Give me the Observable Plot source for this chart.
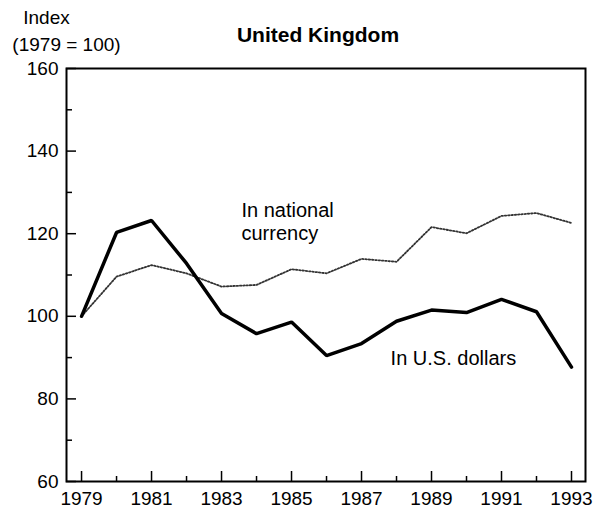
<!DOCTYPE html>
<html>
<head>
<meta charset="utf-8">
<script src="https://cdn.jsdelivr.net/npm/d3@7"></script>
<script src="https://cdn.jsdelivr.net/npm/@observablehq/plot@0.6"></script>
<style>
  html, body { margin: 0; padding: 0; background: #fff; }
  svg { font-family: "Liberation Sans", Arial, Helvetica, sans-serif; }
</style>
</head>
<body>
<div id="chart"></div>
<script>
const years = [1979,1980,1981,1982,1983,1984,1985,1986,1987,1988,1989,1990,1991,1992,1993];
const usDollars = [100,120.3,123.2,112.8,100.7,95.8,98.6,90.5,93.4,98.8,101.5,100.9,104.1,101.1,87.7];
const nationalCurrency = [100,109.6,112.4,110.4,107.2,107.6,111.4,110.4,113.9,113.2,121.6,120.1,124.3,125.0,122.6];
const yMajorTicks = [60,80,100,120,140,160];
const yMinorTicks = [70,90,110,130,150];
const xMajorTicks = [1979,1981,1983,1985,1987,1989,1991,1993];
const xMinorTicks = [1980,1982,1984,1986,1988,1990,1992];
const title = "United Kingdom";
const yLabelLines = ["Index", "(1979 = 100)"];
const seriesLabels = [
  {text: "In national\ncurrency", year: 1983.57, value: 123.1},
  {text: "In U.S. dollars", year: 1987.83, value: 90.0}
];

const usData = years.map((y, i) => ({year: y, value: usDollars[i]}));
const ncData = years.map((y, i) => ({year: y, value: nationalCurrency[i]}));

const W = 599, H = 512, mL = 66, mR = 14, mT = 68, mB = 31;
const frameW = W - mL - mR, frameH = H - mT - mB;

const chart = Plot.plot({
  width: W,
  height: H,
  marginLeft: mL,
  marginRight: mR,
  marginTop: mT,
  marginBottom: mB,
  style: {fontFamily: '"Liberation Sans", Arial, Helvetica, sans-serif', background: "#fff", color: "#000"},
  x: {domain: [1978.57, 1993.4]},
  y: {domain: [60, 160]},
  marks: [
    Plot.axisY({ticks: yMajorTicks, tickSize: 0, tickPadding: 8, tickFormat: "d", label: null, fontSize: 19}),
    Plot.tickY(yMajorTicks, {y: d => d, insetRight: frameW - 10, stroke: "#000", strokeWidth: 1.5}),
    Plot.tickY(yMinorTicks, {y: d => d, insetRight: frameW - 6, stroke: "#000", strokeWidth: 1.5}),
    Plot.axisX({ticks: xMajorTicks, tickSize: 0, tickPadding: 10, tickFormat: "d", label: null, fontSize: 19}),
    Plot.tickX(xMajorTicks, {x: d => d, insetTop: frameH - 10, stroke: "#000", strokeWidth: 1.5}),
    Plot.tickX(xMinorTicks, {x: d => d, insetTop: frameH - 5, stroke: "#000", strokeWidth: 1.5}),
    Plot.frame({stroke: "#000", strokeWidth: 2}),
    Plot.line(ncData, {x: "year", y: "value", stroke: "#333", strokeWidth: 1.8, strokeDasharray: "1.5,1.8"}),
    Plot.line(usData, {x: "year", y: "value", stroke: "#000", strokeWidth: 3.5, strokeLinejoin: "miter"}),
    Plot.text(seriesLabels, {x: "year", y: "value", text: "text", textAnchor: "start", lineAnchor: "middle", lineHeight: 1.15, fontSize: 20, fill: "#000"}),
    Plot.text([title], {frameAnchor: "top", dx: -8, dy: -33, lineAnchor: "middle", fontSize: 21, fontWeight: "bold", fill: "#000"}),
    Plot.text([yLabelLines[0]], {frameAnchor: "top-left", dx: -20, dy: -51, textAnchor: "middle", lineAnchor: "middle", fontSize: 19, fill: "#000"}),
    Plot.text([yLabelLines[1]], {frameAnchor: "top-left", dx: 0, dy: -24, textAnchor: "middle", lineAnchor: "middle", fontSize: 19, fill: "#000"})
  ]
});
document.getElementById("chart").appendChild(chart);
</script>
</body>
</html>
